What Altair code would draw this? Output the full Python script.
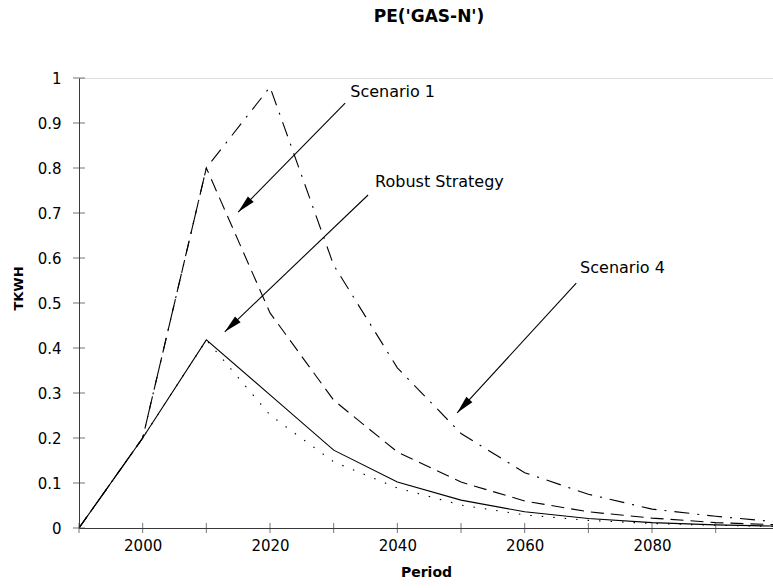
import math
import altair as alt
import pandas as pd

# ---- data ----
years = [1990, 2000, 2010, 2020, 2030, 2040, 2050, 2060, 2070, 2080, 2090, 2100]
robust = [0, 0.2, 0.418, 0.296, 0.173, 0.102, 0.062, 0.036, 0.021, 0.012, 0.007, 0.004]
scenario1 = [0, 0.2, 0.8, 0.478, 0.284, 0.169, 0.102, 0.060, 0.036, 0.022, 0.012, 0.007]
scenario4 = [0, 0.2, 0.8, 0.98, 0.584, 0.356, 0.21, 0.123, 0.075, 0.042, 0.026, 0.013]
other = [0, 0.2, 0.418, 0.251, 0.147, 0.089, 0.051, 0.029, 0.017, 0.010, 0.006, 0.003]

x_label_values = [2000, 2020, 2040, 2060, 2080]
x_tick_values = [1990, 2000, 2010, 2020, 2030, 2040, 2050, 2060, 2070, 2080, 2090]
y_tick_values = [0, 0.1, 0.2, 0.3, 0.4, 0.5, 0.6, 0.7, 0.8, 0.9, 1.0]

ann_text = ["Scenario 1", "Robust Strategy", "Scenario 4"]
ann_text_x = [2032.6, 2036.5, 2068.7]
ann_text_y = [0.969, 0.769, 0.578]
arrow_x1 = [2031.8, 2035.4, 2068.1]
arrow_y1 = [0.944, 0.740, 0.544]
arrow_x2 = [2015.0, 2012.9, 2049.4]
arrow_y2 = [0.702, 0.436, 0.256]

# ---- layout ----
W, H = 694, 450
X_MIN, X_MAX = 1990, 2099
FONT = "DejaVu Sans"
AX = "#3a3a3a"

x_scale = alt.Scale(domain=[X_MIN, X_MAX], nice=False, zero=False)
y_scale = alt.Scale(domain=[0, 1], nice=False, zero=True)

x_axis = alt.Axis(
    values=x_label_values, format="d", ticks=False, tickSize=0, grid=False,
    domainColor=AX, domainWidth=1, labelFont=FONT, labelFontSize=15,
    labelColor="black", labelPadding=10, title="Period",
    titleFont=FONT, titleFontSize=14, titleFontWeight="bold", titleColor="black",
    titleBaseline="middle", titleY=44)
y_axis = alt.Axis(
    values=y_tick_values, format=".1~f", ticks=False, tickSize=0, grid=False,
    domainColor=AX, domainWidth=1, labelFont=FONT, labelFontSize=15,
    labelColor="black", labelPadding=18, title="TKWH",
    titleFont=FONT, titleFontSize=13, titleFontWeight="bold", titleColor="black",
    titleBaseline="middle", titleX=-61, titleY=210, titleAngle=270)


def X(field):
    return alt.X(field, scale=x_scale, axis=x_axis, title="Period")


def Y(field):
    return alt.Y(field, scale=y_scale, axis=y_axis, title="TKWH")


series = [
    ("Robust Strategy", robust, None),
    ("Scenario 1", scenario1, [13, 7]),
    ("Scenario 4", scenario4, [15, 8, 2, 8]),
    ("Other", other, [1.5, 10]),
]

layers = []
for name, vals, dash in series:
    df = pd.DataFrame({"Period": years, "TKWH": vals})
    mk = dict(color="black", strokeWidth=1.1, clip=True)
    if dash:
        mk["strokeDash"] = dash
    layers.append(alt.Chart(df).mark_line(**mk).encode(x=X("Period:Q"), y=Y("TKWH:Q")))

# crossing tick marks on both axes
xt = pd.DataFrame({"v": x_tick_values, "zero": [0] * len(x_tick_values)})
layers.append(alt.Chart(xt).mark_tick(orient="vertical", size=10, thickness=1, color=AX).encode(
    x=X("v:Q"), y=Y("zero:Q")))
yt = pd.DataFrame({"v": y_tick_values, "x0": [X_MIN] * len(y_tick_values)})
layers.append(alt.Chart(yt).mark_tick(orient="horizontal", size=12, thickness=1, color=AX).encode(
    x=X("x0:Q"), y=Y("v:Q")))

# annotations
sx = W / (X_MAX - X_MIN)
sy = H / 1.0
angles = []
for a, b, c, d in zip(arrow_x1, arrow_y1, arrow_x2, arrow_y2):
    dx = (c - a) * sx
    dy = -(d - b) * sy
    angles.append(math.degrees(math.atan2(dx, -dy)) % 360)

ann = pd.DataFrame({"label": ann_text, "tx": ann_text_x, "ty": ann_text_y,
                    "x1": arrow_x1, "y1": arrow_y1, "x2": arrow_x2, "y2": arrow_y2,
                    "ang": angles})

layers.append(alt.Chart(ann).mark_rule(color="black", strokeWidth=1.1).encode(
    x=X("x1:Q"), y=Y("y1:Q"), x2="x2:Q", y2="y2:Q"))
layers.append(alt.Chart(ann).mark_point(
    shape="M0,0 L-0.45,2 L0.45,2 Z", filled=True, size=324, color="black", opacity=1).encode(
    x=X("x2:Q"), y=Y("y2:Q"), angle=alt.Angle("ang:Q", scale=None)))
layers.append(alt.Chart(ann).mark_text(
    align="left", baseline="middle", font=FONT, fontSize=16, color="black").encode(
    x=X("tx:Q"), y=Y("ty:Q"), text="label:N"))

chart = alt.layer(*layers).properties(
    width=W, height=H,
    title=alt.TitleParams("PE('GAS-N')", font=FONT, fontSize=17, fontWeight="bold",
                          color="black", anchor="middle", frame="group",
                          baseline="middle", offset=37, dx=3),
    autosize=alt.AutoSizeParams(type="none"),
    padding={"left": 79, "top": 78, "right": 0, "bottom": 60},
).configure_view(strokeWidth=0).configure(background="white")

chart.save("out.html", embed_options={"renderer": "svg", "actions": False})
